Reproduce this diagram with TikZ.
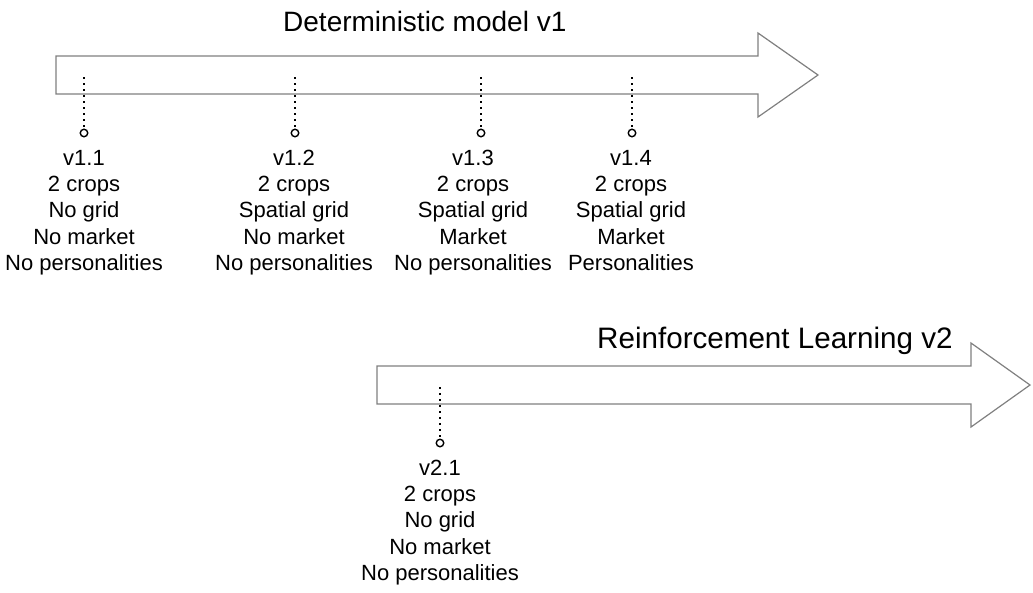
\documentclass[tikz,border=0pt]{standalone}
\usepackage{fontspec}
\setmainfont{Liberation Sans}
\begin{document}
\begin{tikzpicture}[x=1pt,y=-1pt,
  bigarrow/.style={draw=black!50, line width=1.2pt, fill=white, line join=miter},
  dots/.style={draw=black, line width=1.8pt, dash pattern=on 2pt off 4pt},
  marker/.style={circle, draw=black, line width=1.4pt, fill=white, minimum size=7.5pt, inner sep=0pt},
  info/.style={align=center, font=\fontsize{22}{26.3}\selectfont, inner sep=0pt, anchor=base},
  title/.style={font=\fontsize{28}{32}\selectfont, inner sep=0pt, anchor=base west}]
\useasboundingbox[fill=white] (0,0) rectangle (1033,592);

% arrows
\draw[bigarrow] (56,56) -- (758,56) -- (758,33) -- (818,75) -- (758,117) -- (758,94) -- (56,94) -- cycle;
\draw[bigarrow] (377,366) -- (971,366) -- (971,343) -- (1030,385) -- (971,427) -- (971,404) -- (377,404) -- cycle;

\node[title] (t1) at (283,31) {Deterministic model v1};
\node[title, font=\fontsize{29.6}{33}\selectfont] (t2) at (597,348) {Reinforcement Learning v2};

% markers
\foreach \n/\x in {m11/84, m12/295, m13/481, m14/632}{
  \node[marker] (\n) at (\x,133) {};
  \coordinate (\n top) at (\x,77);
  \draw[dots] (\n top) -- (\n.north);
}
\node[marker] (m21) at (440,443) {};
\coordinate (m21top) at (440,387);
\draw[dots] (m21top) -- (m21.north);

% texts (anchor base = baseline of last line)
\node[info] (c11) at (84,270.5) {v1.1\\2 crops\\No grid\\No market\\No personalities};
\node[info] (c12) at (294,270.5) {v1.2\\2 crops\\Spatial grid\\No market\\No personalities};
\node[info] (c13) at (473,270.5) {v1.3\\2 crops\\Spatial grid\\Market\\No personalities};
\node[info] (c14) at (631,270.5) {v1.4\\2 crops\\Spatial grid\\Market\\Personalities};
\node[info] (c21) at (440,580.5) {v2.1\\2 crops\\No grid\\No market\\No personalities};
\end{tikzpicture}
\end{document}
